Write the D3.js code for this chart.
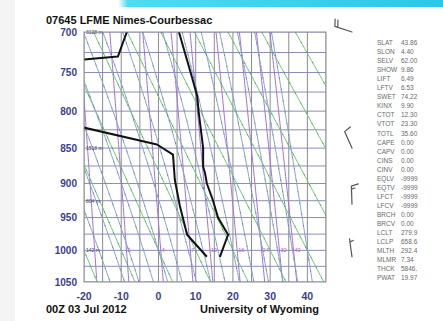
<!DOCTYPE html>
<html>
<head>
<meta charset="utf-8">
<script src="https://cdn.jsdelivr.net/npm/d3@7/dist/d3.min.js"></script>
<style>
  html, body { margin: 0; padding: 0; background: #fff; }
  svg { display: block; font-family: "Liberation Sans", Arial, sans-serif; }
</style>
</head>
<body>
<svg id="chart" width="443" height="321"></svg>
<script>
// --- axes ---
const pressureTicks = [700, 750, 800, 850, 900, 950, 1000, 1050];
const isobars = [700, 725, 750, 775, 800, 825, 850, 875, 900, 925, 950, 975, 1000, 1025, 1050];
const tempTicks = [-20, -10, 0, 10, 20, 30, 40];
const isotherms = [-20, -15, -10, -5, 0, 5, 10, 15, 20, 25, 30, 35, 40, 45];

// --- background lines of the Stuve diagram ---
const dryAdiabats = [-20, -10, 0, 10, 20, 30, 40, 50, 60, 70, 80];            // theta, °C
const moistAdiabats = [-16, -12, -8, -4, 0, 4, 8, 12, 16, 20, 24, 28, 32, 36, 40]; // T at 1000 hPa, °C
const mixingRatios = [1, 2, 4, 7, 10, 16, 24, 32, 40];                         // g/kg

// --- sounding ---
const tempP = [700, 756, 780, 801, 850, 876, 885, 900, 924, 950, 976, 1010];
const tempC = [5.5, 9.0, 10.4, 10.8, 12.0, 12.0, 12.5, 13.0, 14.6, 16.0, 18.7, 16.5];
const dewP = [700, 730, 742, 770, 799, 845, 859, 895, 934, 976, 1010];
const dewC = [-8.5, -10.9, -40, -48, -40, -0.4, 3.9, 4.4, 5.8, 7.7, 13.0];

// heights of standard levels
const heightP = [700, 850, 925, 1000];
const heightText = ["3128 m", "1518 m", "804 m", "142 m"];

// winds
const windP = [700, 850, 930, 1010];
const windDir = [288, 336, 358, 352];
const windKt = [20, 10, 15, 5];

// station indices
const indexNames = ["SLAT", "SLON", "SELV", "SHOW", "LIFT", "LFTV", "SWET", "KINX", "CTOT", "VTOT",
  "TOTL", "CAPE", "CAPV", "CINS", "CINV", "EQLV", "EQTV", "LFCT", "LFCV", "BRCH", "BRCV",
  "LCLT", "LCLP", "MLTH", "MLMR", "THCK", "PWAT"];
const indexValues = ["43.86", "4.40", "62.00", "9.86", "6.49", "6.53", "74.22", "9.90", "12.30", "23.30",
  "35.60", "0.00", "0.00", "0.00", "0.00", "-9999", "-9999", "-9999", "-9999", "0.00", "0.00",
  "279.9", "658.6", "292.4", "7.34", "5846.", "19.97"];

const svg = d3.select('#chart');

const x = d3.scaleLinear().domain([-20, 45]).range([84, 326]);
const y = d3.scalePow().exponent(0.286).domain([700, 1050]).range([32, 282]);

// page background bits
const defs = svg.append('defs');
const grad = defs.append('linearGradient').attr('id', 'band').attr('x1', 0).attr('x2', 1).attr('y1', 0).attr('y2', 0);
grad.append('stop').attr('offset', 0).attr('stop-color', '#4fdcf2').attr('stop-opacity', 0);
grad.append('stop').attr('offset', 0.03).attr('stop-color', '#4fdcf2').attr('stop-opacity', 1);
grad.append('stop').attr('offset', 1).attr('stop-color', '#2cc6e6');
svg.append('rect').attr('x', 0).attr('y', 0).attr('width', 15).attr('height', 321).attr('fill', '#f4f4f4');
svg.append('rect').attr('x', 118).attr('y', 0).attr('width', 325).attr('height', 7).attr('fill', 'url(#band)');

defs.append('clipPath').attr('id', 'plot')
  .append('rect').attr('x', 84).attr('y', 32).attr('width', 242).attr('height', 250);

const plot = svg.append('g').attr('clip-path', 'url(#plot)');
const levels = d3.range(700, 1051, 5);
const line = d3.line().x(d => x(d[1])).y(d => y(d[0]));

// grid
plot.append('g').selectAll('line').data(isobars).join('line')
  .attr('x1', 84).attr('x2', 326).attr('y1', d => y(d)).attr('y2', d => y(d))
  .attr('stroke', '#8e8cb4').attr('stroke-width', 1);
plot.append('g').selectAll('line').data(isotherms).join('line')
  .attr('x1', d => x(d)).attr('x2', d => x(d)).attr('y1', 32).attr('y2', 282)
  .attr('stroke', '#8b8b98').attr('stroke-width', 1);

// mixing ratio lines
function dewFromMix(w, p) {
  const e = w * p / (622 + w);
  const l = Math.log(e / 6.112);
  return 243.5 * l / (17.67 - l);
}
plot.append('g').selectAll('path').data(mixingRatios).join('path')
  .attr('d', w => line(levels.map(p => [p, dewFromMix(w, p)])))
  .attr('fill', 'none').attr('stroke', '#a46ee0').attr('stroke-width', 1);

// dry adiabats
const dryLines = dryAdiabats.map(th => levels.map(p => [p, (th + 273.15) * Math.pow(p / 1000, 0.2857) - 273.15]));
plot.append('g').selectAll('path').data(dryLines).join('path')
  .attr('d', line).attr('fill', 'none').attr('stroke', '#6ccc6c').attr('stroke-width', 1);

// moist adiabats (pseudo-adiabatic lapse rate, integrated from 1000 hPa)
function slope(p, T) {
  const es = 6.112 * Math.exp(17.67 * (T - 273.15) / (T - 29.65));
  const rs = 0.622 * es / (p - es);
  return (287 * T + 2.5e6 * rs) / (p * (1004 + 2.5e6 * 2.5e6 * rs * 0.622 / (287 * T * T)));
}
function moistLine(t0) {
  const pts = [[1000, t0]];
  let T = t0 + 273.15;
  for (let p = 1000; p > 700; p -= 1) {
    const k1 = slope(p, T);
    T -= slope(p - 0.5, T - 0.5 * k1);
    if ((p - 1) % 5 === 0) pts.unshift([p - 1, T - 273.15]);
  }
  T = t0 + 273.15;
  for (let p = 1000; p < 1050; p += 1) {
    const k1 = slope(p, T);
    T += slope(p + 0.5, T + 0.5 * k1);
    if ((p + 1) % 5 === 0) pts.push([p + 1, T - 273.15]);
  }
  return pts;
}
const moistLines = moistAdiabats.map(moistLine);
plot.append('g').selectAll('path').data(moistLines).join('path')
  .attr('d', line).attr('fill', 'none').attr('stroke', '#8aa4c8').attr('stroke-width', 1);

// faint dark dotting seen along the adiabats
plot.append('g').selectAll('path').data(dryLines.concat(moistLines)).join('path')
  .attr('d', line).attr('fill', 'none').attr('stroke', '#2c3a70').attr('stroke-opacity', 0.35)
  .attr('stroke-width', 1.1).attr('stroke-dasharray', '1.5,10');

// mixing ratio labels on the 1000 hPa line
svg.append('g').selectAll('text').data(mixingRatios.filter(w => w > 1)).join('text')
  .attr('x', w => x(dewFromMix(w, 1000)) + 1).attr('y', y(1000) + 2)
  .attr('font-size', 5.5).attr('fill', '#b85cc8').text(w => w);

// height labels
svg.append('g').selectAll('text').data(heightP).join('text')
  .attr('x', 86).attr('y', p => y(p) + 2)
  .attr('font-size', 5).attr('fill', '#44446a').text((p, i) => heightText[i]);

// sounding
plot.append('path')
  .attr('d', line(tempP.map((p, i) => [p, tempC[i]])))
  .attr('fill', 'none').attr('stroke', '#111').attr('stroke-width', 2).attr('stroke-linejoin', 'round');
plot.append('path')
  .attr('d', line(dewP.map((p, i) => [p, dewC[i]])))
  .attr('fill', 'none').attr('stroke', '#111').attr('stroke-width', 2).attr('stroke-linejoin', 'round');

// frame
svg.append('rect').attr('x', 84).attr('y', 32).attr('width', 242).attr('height', 250)
  .attr('fill', 'none').attr('stroke', '#8b8b98').attr('stroke-width', 1);

// axis labels
svg.append('g').selectAll('text').data(pressureTicks).join('text')
  .attr('x', 77).attr('y', p => y(p) + 3.5).attr('text-anchor', 'end')
  .attr('font-size', 10).attr('font-weight', 'bold').attr('fill', '#3d3d8e').text(d => d);
svg.append('g').selectAll('text').data(tempTicks).join('text')
  .attr('x', t => x(t)).attr('y', 300).attr('text-anchor', 'middle')
  .attr('font-size', 10.5).attr('font-weight', 'bold').attr('fill', '#3d3d8e').text(d => d);

// titles
svg.append('text').attr('x', 46).attr('y', 24).attr('font-size', 11).attr('font-weight', 'bold')
  .attr('fill', '#111').text('07645 LFME Nimes-Courbessac');
svg.append('text').attr('x', 46).attr('y', 313).attr('font-size', 11).attr('font-weight', 'bold')
  .attr('fill', '#111').text('00Z 03 Jul 2012');
svg.append('text').attr('x', 200).attr('y', 313).attr('font-size', 11).attr('font-weight', 'bold')
  .attr('fill', '#111').text('University of Wyoming');

// wind barbs
const barbX = 352, staff = 18;
const barbs = svg.append('g').attr('stroke', '#555').attr('stroke-width', 1.2).attr('fill', 'none')
  .attr('stroke-linecap', 'round');
windP.forEach((p, i) => {
  const a = windDir[i] * Math.PI / 180;
  const ux = Math.sin(a), uy = -Math.cos(a);     // towards where the wind comes from
  const px = -uy, py = ux;                        // clockwise side
  const x0 = barbX, y0 = y(p);
  const x1 = x0 + ux * staff, y1 = y0 + uy * staff;
  let d = `M${x0},${y0}L${x1},${y1}`;
  let kt = windKt[i], pos = 0;
  while (kt >= 10) {
    const bx = x1 - ux * pos, by = y1 - uy * pos;
    d += `M${bx},${by}l${px * 7 + ux * 2},${py * 7 + uy * 2}`;
    kt -= 10; pos += 3;
  }
  if (kt >= 5) {
    if (pos === 0) pos = 3;
    const bx = x1 - ux * pos, by = y1 - uy * pos;
    d += `M${bx},${by}l${px * 3.5 + ux},${py * 3.5 + uy}`;
  }
  barbs.append('path').attr('d', d);
});

// station indices
const idx = svg.append('g').attr('font-size', 6.5).attr('fill', '#6a6a6a');
idx.selectAll('text.n').data(indexNames).join('text').attr('class', 'n')
  .attr('x', 377).attr('y', (d, i) => 45 + i * 9.05).text(d => d);
idx.selectAll('text.v').data(indexValues).join('text').attr('class', 'v')
  .attr('x', 401).attr('y', (d, i) => 45 + i * 9.05).text(d => d);
</script>
</body>
</html>
